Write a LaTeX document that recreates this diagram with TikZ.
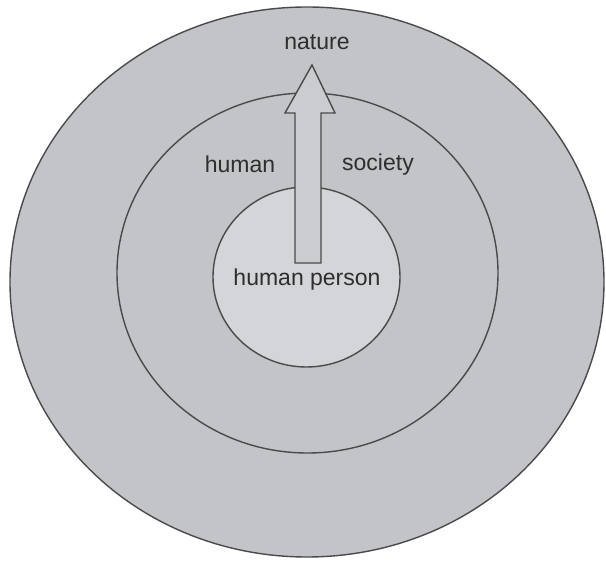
\documentclass[tikz,border=0pt]{standalone}
\usepackage{fontspec}
\setmainfont{Liberation Sans}
\usepackage{xcolor}
\usetikzlibrary{positioning}
\definecolor{ringgray}{HTML}{C2C4C8}
\definecolor{coregray}{HTML}{D4D5D8}
\definecolor{arrowgray}{HTML}{CBCCCF}
\definecolor{rimline}{HTML}{4A4A4C}
\definecolor{ink}{HTML}{2E2E30}
\tikzset{
  ring/.style={draw=rimline,fill=ringgray,line width=0.7pt},
  core/.style={draw=rimline,fill=coregray,line width=0.7pt},
  blockarr/.style={draw=rimline,fill=arrowgray,line width=0.7pt,line join=miter},
  lbl/.style={font=\fontsize{11.5}{14}\selectfont,text=ink,inner sep=1pt}
}
\begin{document}
\begin{tikzpicture}[x=0.5pt,y=-0.5pt]
  \useasboundingbox (0,0) rectangle (606,561);
  % nature
  \draw[ring] (307,282) ellipse [x radius=297, y radius=275];
  % human society
  \draw[ring] (307.5,273) ellipse [x radius=190.5, y radius=180];
  % human person
  \draw[core] (306.5,277) ellipse [x radius=93.5, y radius=90];
  % arrow from person out to nature
  \draw[blockarr] (295,263) -- (295,113) -- (285,113) -- (312,65)
    -- (335,113) -- (321,113) -- (321,263) -- cycle;
  % labels
  \node[lbl] (nature) at (317,42) {nature};
  \node[lbl] (human) at (240,164) {human};
  \node[lbl] (society) at (378,165) {society};
  \node[lbl] (person) at (307,280) {human person};
\end{tikzpicture}
\end{document}
